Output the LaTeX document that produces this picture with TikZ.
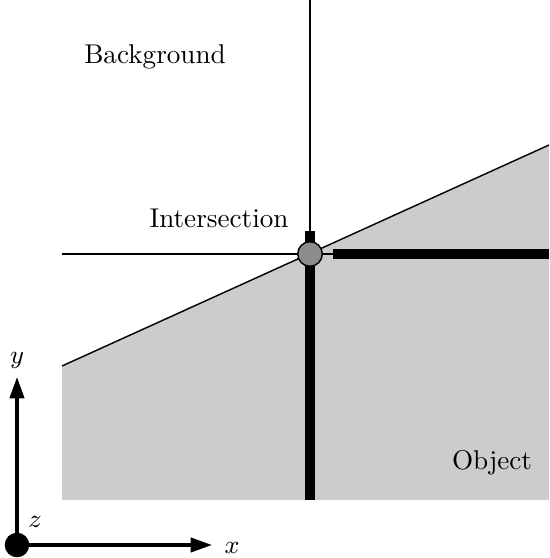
\documentclass[tikz,border=0pt]{standalone}
\usetikzlibrary{arrows.meta}
\begin{document}
\begin{tikzpicture}[x=0.35pt,y=-0.35pt,
  thinline/.style={line width=0.5pt},
  thickline/.style={line width=3.2pt},
  axis/.style={line width=1.2pt,-{Triangle[length=7.5pt,width=5pt]}},
  lbl/.style={inner sep=0pt,font=\fontsize{9.5}{11}\selectfont}]
\useasboundingbox (0,0) rectangle (549,558);
% object region
\coordinate (tl) at (62,366);
\coordinate (tr) at (549,145);
\coordinate (br) at (549,500);
\coordinate (bl) at (62,500);
\fill[gray!40] (tl) -- (tr) -- (br) -- (bl) -- cycle;
\draw[thinline] (tl) -- (tr);
% scan lines
\coordinate (vtop) at (310,0);
\coordinate (vbot) at (310,500);
\coordinate (hleft) at (62,254);
\coordinate (hright) at (549,254);
\coordinate (vthick) at (310,231);
\coordinate (hthick) at (333,254);
\draw[thinline] (vtop) -- (vbot);
\draw[thinline] (hleft) -- (hright);
\draw[thickline] (vthick) -- (vbot);
\draw[thickline] (hthick) -- (hright);
\node[circle,draw=black,line width=0.5pt,fill=black!45,minimum size=8.6pt,inner sep=0pt] (isec) at (310,254) {};
% labels
\node[lbl] (bg) at (155,57) {Background};
\node[lbl] (it) at (219,218) {Intersection};
\node[lbl] (ob) at (492,463) {Object};
% axes
\node[circle,fill=black,minimum size=8.6pt,inner sep=0pt] (o) at (17,545) {};
\coordinate (ytip) at (17,377);
\coordinate (xtip) at (212,545);
\draw[axis] (o.center) -- (ytip);
\draw[axis] (o.center) -- (xtip);
\node[lbl] (ylab) at (17,360) {$y$};
\node[lbl] (zlab) at (35,522) {$z$};
\node[lbl] (xlab) at (232,548) {$x$};
\end{tikzpicture}
\end{document}
